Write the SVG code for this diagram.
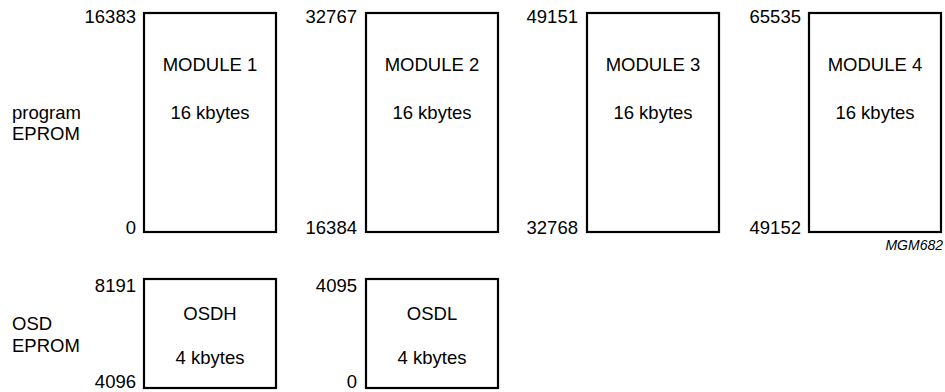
<svg xmlns="http://www.w3.org/2000/svg" width="945" height="392" viewBox="0 0 945 392">
<style>
text{font-family:"Liberation Sans",Arial,sans-serif;font-size:18.5px;fill:#000}
.box{fill:none;stroke:#000;stroke-width:2.2}
.c{text-anchor:middle}
.r{text-anchor:end}
.tag{font-size:14px;font-style:italic}
</style>
<rect width="945" height="392" fill="#fff"/>
<g id="labels">
<text x="12" y="119">program</text>
<text x="12" y="140">EPROM</text>
<text x="12" y="330">OSD</text>
<text x="12" y="352">EPROM</text>
<text class="tag r" x="943" y="250">MGM682</text>
</g>
<g id="module1">
<rect class="box" x="144" y="13" width="132" height="219"/>
<text class="c" x="210" y="71">MODULE 1</text>
<text class="c" x="210" y="119">16 kbytes</text>
<text class="r" x="136" y="22.5">16383</text>
<text class="r" x="136" y="234">0</text>
</g>
<g id="module2">
<rect class="box" x="366" y="13" width="132" height="219"/>
<text class="c" x="432" y="71">MODULE 2</text>
<text class="c" x="432" y="119">16 kbytes</text>
<text class="r" x="357" y="22.5">32767</text>
<text class="r" x="357" y="234">16384</text>
</g>
<g id="module3">
<rect class="box" x="587" y="13" width="132" height="219"/>
<text class="c" x="653" y="71">MODULE 3</text>
<text class="c" x="653" y="119">16 kbytes</text>
<text class="r" x="578" y="22.5">49151</text>
<text class="r" x="578" y="234">32768</text>
</g>
<g id="module4">
<rect class="box" x="809" y="13" width="132" height="219"/>
<text class="c" x="875" y="71">MODULE 4</text>
<text class="c" x="875" y="119">16 kbytes</text>
<text class="r" x="801" y="22.5">65535</text>
<text class="r" x="801" y="234">49152</text>
</g>
<g id="osdh">
<rect class="box" x="144" y="279" width="132" height="109"/>
<text class="c" x="210" y="320">OSDH</text>
<text class="c" x="210" y="364">4 kbytes</text>
<text class="r" x="136" y="292">8191</text>
<text class="r" x="136" y="388">4096</text>
</g>
<g id="osdl">
<rect class="box" x="366" y="279" width="132" height="109"/>
<text class="c" x="432" y="320">OSDL</text>
<text class="c" x="432" y="364">4 kbytes</text>
<text class="r" x="357" y="292">4095</text>
<text class="r" x="357" y="388">0</text>
</g>
<g id="connectors"></g>
</svg>
